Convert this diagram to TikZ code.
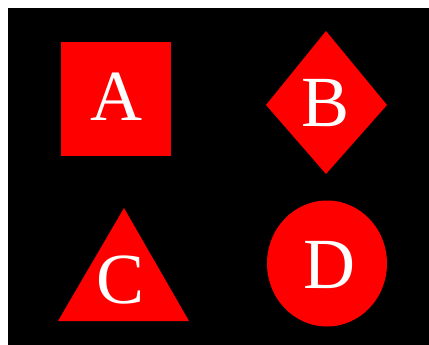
\documentclass[tikz,border=0pt]{standalone}
\usepackage{fontspec}
\setmainfont{Liberation Serif}

\begin{document}
\begin{tikzpicture}[x=1pt, y=-1pt, every node/.style={text=white, inner sep=0pt, font=\fontsize{72}{72}\selectfont}]
  \useasboundingbox (0,0) rectangle (429,345);
  \fill[black] (8,8) rectangle (429,345);
  % shapes
  \fill[red] (61,42) rectangle (171,156);
  \fill[red] (326,31) -- (387,105) -- (326,174) -- (266,105) -- cycle;
  \fill[red] (124,208) -- (189,321) -- (58,321) -- cycle;
  \fill[red] (327,263.5) ellipse [x radius=60, y radius=63];
  % letters
  \node (a) at (116,97) {A};
  \node (b) at (325.5,103.5) {B};
  \node (c) at (121,280) {C};
  \node (d) at (329,265) {D};
\end{tikzpicture}
\end{document}
